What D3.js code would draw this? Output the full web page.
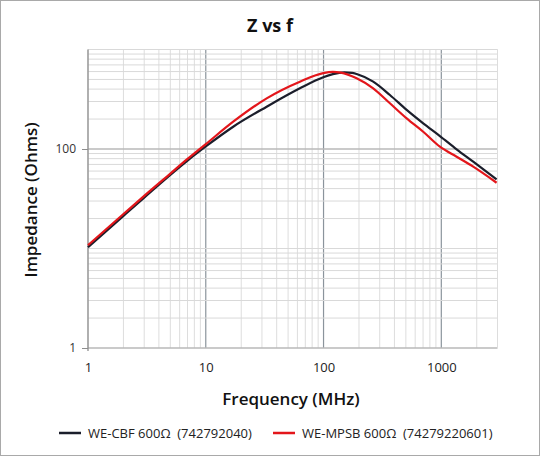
<!DOCTYPE html>
<html><head><meta charset="utf-8">
<script src="https://cdn.jsdelivr.net/npm/d3@7"></script>
<style>
html,body{margin:0;padding:0;background:#fff;}
svg{display:block;font-family:"Open Sans",sans-serif;}
</style></head>
<body>
<svg id="c" width="540" height="456"></svg>
<script>
const seriesNames = ["WE-CBF 600\u03A9  (742792040)", "WE-MPSB 600\u03A9  (74279220601)"];
const seriesColors = ["#1b1e2b", "#e3161b"];
const cbfFreq = [1, 2, 3, 5, 7, 10, 17.1, 32.9, 63, 99.4, 120, 150, 175, 191, 264, 366, 508, 702, 973, 1349, 1866, 2947];
const cbfZ    = [10.3, 21.3, 32.5, 55, 76.5, 106, 167.5, 266, 407, 526, 565, 588, 582, 567, 475, 349, 247, 181, 135, 99.3, 74.5, 49.6];
const mpsbFreq = [1, 2, 3, 5, 7, 10, 17.1, 32.9, 63, 99.4, 120, 140, 191, 264, 366, 508, 702, 973, 1349, 1866, 2947];
const mpsbZ    = [10.8, 22.2, 33.8, 56.6, 79.5, 112, 188, 323, 475, 578, 595, 586, 514, 407, 288, 203, 149, 105.5, 83.7, 66.4, 45.8];
const xTickLabels = [1, 10, 100, 1000];
const yTickLabels = [1, 100];

const svg = d3.select("#c");
const W = 540, H = 456;
const m = {l: 88, r: 497.5, t: 49.5, b: 348};

svg.append("rect").attr("x",0.5).attr("y",0.5).attr("width",W-1).attr("height",H-1)
  .attr("fill","#fff").attr("stroke","#a9a9a9");

const x = d3.scaleLog().domain([1, 3000]).range([m.l, m.r]);
const y = d3.scaleLog().domain([1, 1000]).range([m.b, m.t]);

const g = svg.append("g");
const xMinor = x.ticks().filter(v => v >= 1 && v <= 3000);
const yMinor = y.ticks();
g.selectAll(".vx").data(xMinor).join("line")
  .attr("x1", d => x(d)).attr("x2", d => x(d)).attr("y1", m.t).attr("y2", m.b)
  .attr("stroke", d => (xTickLabels.includes(d) && d !== 1) ? "#8b949c" : "#dddddd")
  .attr("stroke-width", d => (xTickLabels.includes(d) && d !== 1) ? 1.2 : 1);
g.selectAll(".hy").data(yMinor).join("line")
  .attr("x1", m.l).attr("x2", m.r).attr("y1", d => y(d)).attr("y2", d => y(d))
  .attr("stroke", d => yTickLabels.includes(d) ? "#b8b8b8" : "#d9d9d9")
  .attr("stroke-width", d => yTickLabels.includes(d) ? 1.3 : 1);
g.append("line").attr("x1", x(3000)).attr("x2", x(3000)).attr("y1", m.t).attr("y2", m.b)
  .attr("stroke", "#dddddd");
g.append("line").attr("x1", m.l).attr("x2", m.l).attr("y1", m.t).attr("y2", m.b + 3)
  .attr("stroke", "#8e8e8e").attr("stroke-width", 1.3);

const yAxis = d3.axisLeft(y).tickValues(yTickLabels).tickFormat(d3.format("d")).tickSize(6).tickPadding(6);
const ya = svg.append("g").attr("transform", `translate(${m.l},0)`).call(yAxis);
ya.select(".domain").remove();
ya.selectAll(".tick line").attr("stroke", "#8e8e8e");
ya.selectAll(".tick text").attr("fill", "#333").style("font-size", "12px").style("font-family", "'Open Sans',sans-serif");

const xAxis = d3.axisBottom(x).tickValues(xTickLabels).tickFormat(d3.format("d")).tickSize(0).tickPadding(15);
const xa = svg.append("g").attr("transform", `translate(0,${m.b})`).call(xAxis);
xa.select(".domain").remove();
xa.selectAll(".tick text").attr("fill", "#222").style("font-size", "13px").style("font-family", "'Open Sans',sans-serif");

const line = d3.line().x(d => x(d[0])).y(d => y(d[1])).curve(d3.curveMonotoneX);
const dataSets = [d3.zip(cbfFreq, cbfZ), d3.zip(mpsbFreq, mpsbZ)];
svg.append("g").selectAll("path").data(dataSets).join("path")
  .attr("d", line).attr("fill", "none")
  .attr("stroke", (d, i) => seriesColors[i]).attr("stroke-width", 2.2);

svg.append("text").attr("x", 270).attr("y", 32).attr("text-anchor", "middle")
  .style("font-size", "18px").style("font-weight", "700").attr("fill", "#111").text("Z vs f");
svg.append("text").attr("x", 291).attr("y", 405).attr("text-anchor", "middle")
  .style("font-size", "17px").style("font-weight", "600").attr("fill", "#111").text("Frequency (MHz)");
svg.append("text").attr("transform", "translate(37,200) rotate(-90)").attr("text-anchor", "middle")
  .style("font-size", "17px").style("font-weight", "600").attr("fill", "#111").text("Impedance (Ohms)");

const legX = [59, 273];
const lg = svg.append("g").selectAll("g").data(seriesNames).join("g")
  .attr("transform", (d, i) => `translate(${legX[i]},433)`);
lg.append("line").attr("x1", 0).attr("x2", 22).attr("y1", 0).attr("y2", 0)
  .attr("stroke", (d, i) => seriesColors[i]).attr("stroke-width", 2.5);
lg.append("text").attr("x", 29).attr("y", 4.5).style("font-size", "13px").attr("fill", "#222")
  .style("white-space", "pre").attr("xml:space", "preserve").text(d => d);
</script>
</body></html>
